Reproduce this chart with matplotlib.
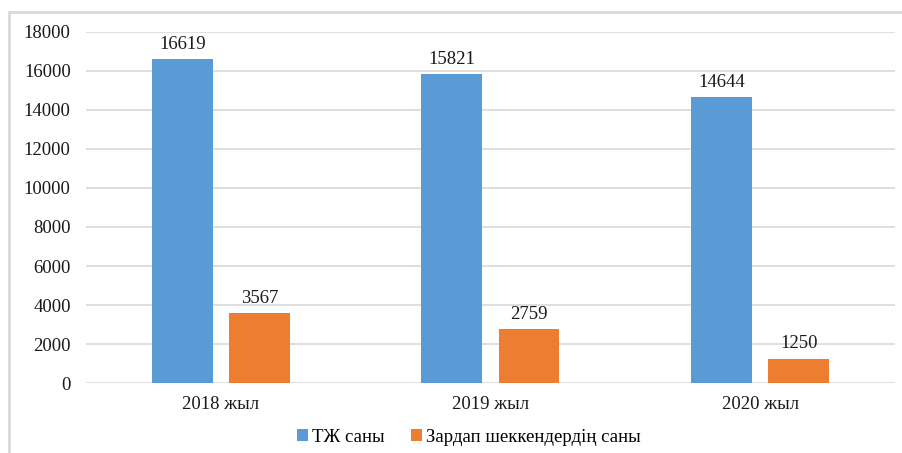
import numpy as np
import matplotlib.pyplot as plt
from matplotlib.patches import Rectangle

plt.rcParams['font.family'] = ['Liberation Serif', 'DejaVu Serif']

years = ['2018 жыл', '2019 жыл', '2020 жыл']
tzh_count = [16619, 15821, 14644]
victims_count = [3567, 2759, 1250]
series_names = ['ТЖ саны', 'Зардап шеккендердің саны']

blue = '#5b9bd5'
orange = '#ed7d31'

fig = plt.figure(figsize=(9.03, 4.53), dpi=100)
ax = fig.add_axes([0.0952, 0.1545, 0.8959, 0.7749])

x = np.arange(len(years))
w = 0.226
gap = 0.06
off = (w + gap) / 2

b1 = ax.bar(x - off, tzh_count, w, color=blue, label=series_names[0], zorder=3)
b2 = ax.bar(x + off, victims_count, w, color=orange, label=series_names[1], zorder=3)

for bars in (b1, b2):
    for rect in bars:
        h = rect.get_height()
        ax.annotate(f'{h:.0f}', (rect.get_x() + rect.get_width() / 2, h),
                    xytext=(0, 4.5), textcoords='offset points',
                    ha='center', va='bottom', fontsize=13.5, color='#1a1a1a')

ax.set_xlim(-0.5, 2.5)
ax.set_ylim(0, 18000)
ax.set_yticks(np.arange(0, 18001, 2000))
ax.set_xticks(x)
ax.set_xticklabels(years)
ax.tick_params(axis='both', length=0, labelsize=13.5, colors='#1a1a1a')
ax.tick_params(axis='y', pad=11)
ax.tick_params(axis='x', pad=9)
ax.grid(axis='y', color='#d9d9d9', linewidth=1.2, zorder=0)
for s in ax.spines.values():
    s.set_visible(False)

leg = fig.legend(handles=[b1, b2], loc='center', bbox_to_anchor=(0.519, 0.035),
                 ncol=2, frameon=False, fontsize=13.5, handlelength=0.6,
                 handleheight=0.6, handletextpad=0.2, columnspacing=1.4)

# outer chart frame
fig.add_artist(Rectangle((9 / 903, -0.1), 1.2, 1 - 12 / 453 + 0.1,
                         transform=fig.transFigure, fill=False,
                         edgecolor='#d9d9d9', linewidth=2))

fig.savefig('out.png', dpi=100)
